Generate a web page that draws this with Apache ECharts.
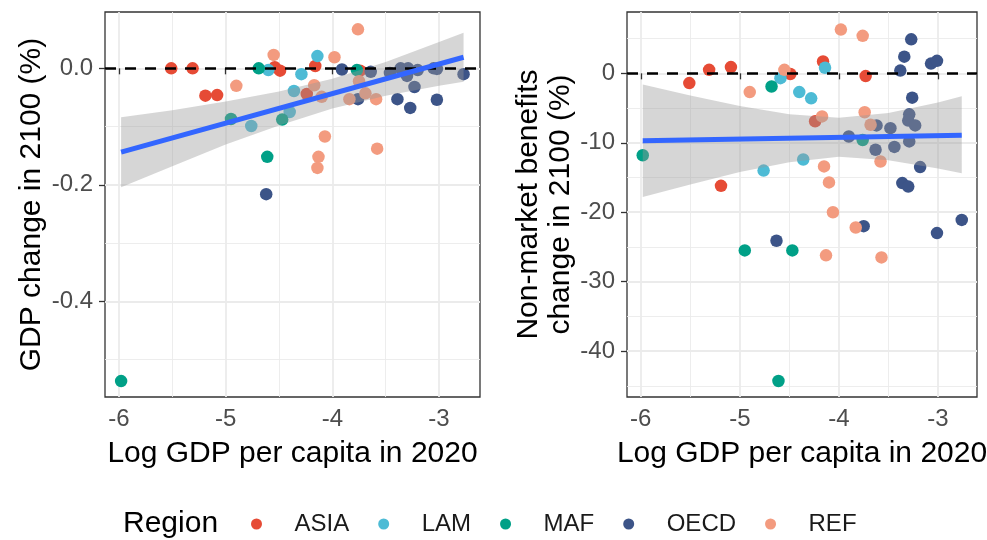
<!DOCTYPE html>
<html><head><meta charset="utf-8">
<script src="https://cdn.jsdelivr.net/npm/echarts@6/dist/echarts.min.js"></script>
<style>html,body{margin:0;padding:0;background:#fff}#c{width:987px;height:540px}</style>
</head><body><div id="c"></div>
<script>
// ---------- data ----------
var regions = ['ASIA','LAM','MAF','OECD','REF'];
var colors  = ['#E64B35','#4DBBD5','#00A087','#3C5488','#F39B7F'];

// left panel: [log GDP per capita 2020, GDP change in 2100 (%)]
var asiaL = [[-5.51,0],[-5.31,0],[-5.19,-0.047],[-5.08,-0.046],[-4.54,0.002],[-4.49,-0.004],[-4.16,0.004],[-4.24,-0.044],[-3.74,-0.004]];
var lamL  = [[-4.60,-0.003],[-4.29,-0.010],[-4.14,0.021],[-4.36,-0.039],[-4.40,-0.075],[-4.76,-0.099]];
var mafL  = [[-4.69,0],[-4.95,-0.087],[-4.47,-0.088],[-4.61,-0.152],[-3.77,-0.003],[-5.98,-0.537]];
var oecdL = [[-3.91,-0.002],[-3.76,-0.053],[-3.64,-0.006],[-3.46,-0.008],[-3.36,0],[-3.29,0],[-3.30,-0.013],[-3.20,-0.003],[-3.05,0],[-3.02,-0.001],[-3.23,-0.032],[-3.39,-0.053],[-3.27,-0.068],[-3.02,-0.054],[-2.77,-0.010],[-4.62,-0.216]];
var refL  = [[-4.55,0.023],[-4.90,-0.030],[-3.98,0.019],[-3.76,0.067],[-4.17,-0.029],[-4.10,-0.049],[-3.84,-0.053],[-3.75,-0.022],[-3.69,-0.043],[-3.59,-0.053],[-4.07,-0.117],[-4.13,-0.152],[-4.14,-0.171],[-3.58,-0.138]];

// right panel: [log GDP per capita 2020, non-market benefits change in 2100 (%)]
var asiaR = [[-5.51,-1.4],[-5.31,0.5],[-5.09,0.9],[-4.54,0.1],[-4.49,-0.1],[-4.16,1.7],[-4.24,-6.9],[-3.73,-0.4],[-5.19,-16.2]];
var lamR  = [[-4.59,-0.7],[-4.40,-2.7],[-4.28,-3.6],[-4.14,0.8],[-4.36,-12.4],[-4.76,-14.0]];
var mafR  = [[-5.98,-11.8],[-4.68,-1.9],[-3.76,-9.6],[-4.95,-25.5],[-4.47,-25.5],[-4.61,-44.3]];
var oecdR = [[-3.90,-9.1],[-3.63,-11.0],[-3.62,-7.5],[-3.48,-7.9],[-3.44,-10.6],[-3.29,-5.9],[-3.30,-6.8],[-3.23,-7.5],[-3.29,-9.8],[-3.26,-3.5],[-3.38,0.4],[-3.34,2.4],[-3.27,4.9],[-3.07,1.4],[-3.01,1.8],[-3.18,-13.5],[-3.36,-15.8],[-3.30,-16.3],[-4.63,-24.1],[-3.75,-22.0],[-3.01,-23.0],[-2.76,-21.1]];
var refR  = [[-4.55,0.5],[-4.90,-2.7],[-3.98,6.3],[-3.76,5.4],[-4.17,-6.2],[-3.74,-5.6],[-3.68,-7.4],[-4.15,-13.4],[-4.10,-15.7],[-3.58,-12.7],[-4.06,-20.0],[-3.83,-22.2],[-4.13,-26.2],[-3.57,-26.5]];

// linear fit and its confidence band
var fitXL = [-5.98,-2.77];
var fitYL = [-0.144,0.019];
var bandXL  = [-5.98,-5.5,-5,-4.5,-4,-3.5,-3,-2.77];
var bandLoL = [-0.204,-0.168,-0.131,-0.098,-0.069,-0.047,-0.030,-0.023];
var bandHiL = [-0.084,-0.072,-0.057,-0.040,-0.018,0.011,0.045,0.061];

var fitXR = [-5.98,-2.76];
var fitYR = [-9.71,-8.90];
var bandXR  = [-5.98,-5.5,-5,-4.5,-4,-3.5,-3,-2.76];
var bandLoR = [-17.8,-16.0,-14.2,-12.8,-12.0,-12.5,-13.7,-14.4];
var bandHiR = [-1.6,-3.2,-4.7,-5.9,-6.4,-5.7,-4.2,-3.3];

// axis ticks
var xTicks = [-6,-5,-4,-3];
var xMinor = [-5.5,-4.5,-3.5];
var yTicksL = [-0.4,-0.2,0.0];
var yMinorL = [-0.5,-0.3,-0.1];
var yTicksR = [-40,-30,-20,-10,0];
var yMinorR = [-45,-35,-25,-15,-5,5];

// ---------- chart ----------
var FONT = 'Liberation Sans, Arial, sans-serif';
var chart = echarts.init(document.getElementById('c'), null, {renderer:'canvas'});

function mainX(gi, min, max, name){
  return {type:'value', gridIndex:gi, min:min, max:max,
    name:name, nameLocation:'middle', nameGap:42,
    nameTextStyle:{fontFamily:FONT, fontSize:30, color:'#000'},
    axisLine:{show:false},
    axisTick:{show:true, length:6, customValues:xTicks, lineStyle:{color:'#333', width:1.3}},
    axisLabel:{customValues:xTicks, margin:10, fontFamily:FONT, fontSize:24, color:'#4D4D4D', formatter:function(v){return String(v);}},
    splitLine:{show:true, lineStyle:{color:'#EBEBEB', width:1.8}}
  };
}
function minorX(gi, min, max){
  return {type:'value', gridIndex:gi, min:min, max:max,
    axisLine:{show:false}, axisLabel:{show:false},
    axisTick:{show:false, customValues:xMinor},
    splitLine:{show:true, lineStyle:{color:'#EBEBEB', width:0.9}}
  };
}
function mainY(gi, min, max, ticks, fmt, name, gap){
  return {type:'value', gridIndex:gi, min:min, max:max,
    name:name, nameLocation:'middle', nameGap:gap, nameRotate:90,
    nameTextStyle:{fontFamily:FONT, fontSize:30, color:'#000', lineHeight:32},
    axisLine:{show:false},
    axisTick:{show:true, length:6, customValues:ticks, lineStyle:{color:'#333', width:1.3}},
    axisLabel:{customValues:ticks, margin:12, fontFamily:FONT, fontSize:24, color:'#4D4D4D', formatter:fmt},
    splitLine:{show:true, lineStyle:{color:'#EBEBEB', width:1.8}}
  };
}
function minorY(gi, min, max, ticks){
  return {type:'value', gridIndex:gi, min:min, max:max,
    axisLine:{show:false}, axisLabel:{show:false},
    axisTick:{show:false, customValues:ticks},
    splitLine:{show:true, lineStyle:{color:'#EBEBEB', width:0.9}}
  };
}

function scatterSeries(name, data, color, xi, yi){
  return {type:'scatter', name:name, xAxisIndex:xi, yAxisIndex:yi, data:data,
    symbol:'circle', symbolSize:12.5, z:3, itemStyle:{color:color, opacity:1}, emphasis:{disabled:true}};
}
function bandSeries(bx, lo, hi, xi, yi){
  return {type:'custom', xAxisIndex:xi, yAxisIndex:yi, z:4, silent:true,
    data:[[bx[0], lo[0]]],
    renderItem:function(params, api){
      var pts = [];
      for (var i=0;i<bx.length;i++) pts.push(api.coord([bx[i], hi[i]]));
      for (var j=bx.length-1;j>=0;j--) pts.push(api.coord([bx[j], lo[j]]));
      return {type:'polygon', shape:{points:pts}, style:{fill:'rgba(153,153,153,0.4)'}};
    }};
}
function fitSeries(fx, fy, xi, yi){
  return {type:'line', xAxisIndex:xi, yAxisIndex:yi, z:5, silent:true,
    data:[[fx[0],fy[0]],[fx[1],fy[1]]], symbol:'none',
    lineStyle:{color:'#3366FF', width:5}};
}
function hlineSeries(xi, yi){
  return {type:'line', xAxisIndex:xi, yAxisIndex:yi, z:2, data:[], silent:true,
    markLine:{silent:true, symbol:'none', label:{show:false},
      lineStyle:{type:[11,9], color:'#000', width:2.5}, data:[{yAxis:0}]}};
}

var series = [];
series.push(hlineSeries(0,0));
series.push(hlineSeries(2,2));
var dL = [asiaL, lamL, mafL, oecdL, refL];
var dR = [asiaR, lamR, mafR, oecdR, refR];
for (var k=0;k<regions.length;k++){
  series.push(scatterSeries(regions[k], dL[k], colors[k], 0, 0));
  series.push(scatterSeries(regions[k], dR[k], colors[k], 2, 2));
}
series.push(bandSeries(bandXL, bandLoL, bandHiL, 0, 0));
series.push(bandSeries(bandXR, bandLoR, bandHiR, 2, 2));
series.push(fitSeries(fitXL, fitYL, 0, 0));
series.push(fitSeries(fitXR, fitYR, 2, 2));

var option = {
  animation:false,
  backgroundColor:'#fff',
  textStyle:{fontFamily:FONT},
  grid:[
    {left:105, top:12, width:375, height:385, show:true, borderColor:'#333', borderWidth:1.3, backgroundColor:'transparent', containLabel:false, outerBoundsMode:'none'},
    {left:627, top:12, width:350, height:385, show:true, borderColor:'#333', borderWidth:1.3, backgroundColor:'transparent', containLabel:false, outerBoundsMode:'none'}
  ],
  xAxis:[
    mainX(0, -6.131, -2.616, 'Log GDP per capita in 2020'),
    minorX(0, -6.131, -2.616),
    mainX(1, -6.139, -2.606, 'Log GDP per capita in 2020'),
    minorX(1, -6.139, -2.606)
  ],
  yAxis:[
    mainY(0, -0.5643, 0.0967, yTicksL, function(v){return v.toFixed(1);}, 'GDP change in 2100 (%)', 57),
    minorY(0, -0.5643, 0.0967, yMinorL),
    mainY(1, -46.6, 8.83, yTicksR, function(v){return String(v);}, 'Non-market benefits\nchange in 2100 (%)', 45),
    minorY(1, -46.6, 8.83, yMinorR)
  ],
  legend:{show:true, data:regions, left:246, top:507, icon:'circle', itemWidth:66, itemHeight:11, itemGap:29,
    textStyle:{fontFamily:FONT, fontSize:24, color:'#1A1A1A'}, selectedMode:false},
  graphic:[{type:'text', x:123, y:524, style:{text:'Region', font:'30px Liberation Sans, Arial, sans-serif', fill:'#000', verticalAlign:'middle'}}],
  series:series
};
chart.setOption(option);
</script></body></html>
